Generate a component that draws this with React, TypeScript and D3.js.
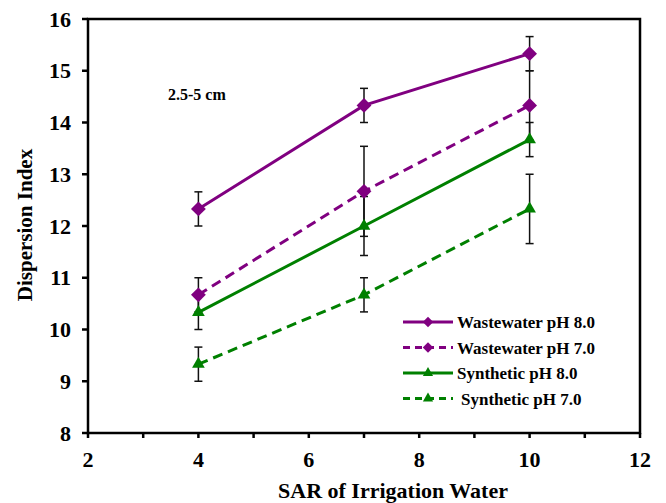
import { useEffect, useRef } from "react";
import * as d3 from "d3";

const sar = [4, 7, 10];
const seriesNames = ["Wastewater pH 8.0", "Wastewater pH 7.0", "Synthetic pH 8.0", "Synthetic pH 7.0"];
const ww80 = [12.33, 14.33, 15.33];
const ww70 = [10.67, 12.67, 14.33];
const syn80 = [10.33, 12.0, 13.67];
const syn70 = [9.33, 10.67, 12.33];
const ww80Err = [0.33, 0.33, 0.33];
const ww70Err = [0.33, 0.87, 0.67];
const syn80Err = [0.33, 0.57, 0.33];
const syn70Err = [0.33, 0.33, 0.67];
const xTicks = [2, 4, 6, 8, 10, 12];
const yTicks = [8, 9, 10, 11, 12, 13, 14, 15, 16];

const App = () => {
  const ref = useRef<SVGSVGElement>(null);

  useEffect(() => {
    const width = 666, height = 503;
    const left = 88, right = 640, top = 19, bottom = 433;

    const svg = d3.select(ref.current)
      .html("")
      .attr("width", width)
      .attr("height", height)
      .attr("font-family", "Liberation Serif, DejaVu Serif, serif")
      .attr("font-weight", "bold");

    const x = d3.scaleLinear().domain([2, 12]).range([left, right]);
    const y = d3.scaleLinear().domain([8, 16]).range([bottom, top]);

    const series = [
      { name: seriesNames[0], values: ww80, err: ww80Err, color: "#800080", dash: null, shape: d3.symbolDiamond2 },
      { name: seriesNames[1], values: ww70, err: ww70Err, color: "#800080", dash: "10,6", shape: d3.symbolDiamond2 },
      { name: seriesNames[2], values: syn80, err: syn80Err, color: "#008000", dash: null, shape: d3.symbolTriangle },
      { name: seriesNames[3], values: syn70, err: syn70Err, color: "#008000", dash: "10,6", shape: d3.symbolTriangle }
    ];

    // frame
    svg.append("rect")
      .attr("x", left).attr("y", top)
      .attr("width", right - left).attr("height", bottom - top)
      .attr("fill", "none").attr("stroke", "#000").attr("stroke-width", 2.5);

    // x ticks (major + minor)
    d3.range(2, 12.01, 1).forEach(v => {
      svg.append("line")
        .attr("x1", x(v)).attr("x2", x(v))
        .attr("y1", bottom).attr("y2", bottom + 5)
        .attr("stroke", "#000").attr("stroke-width", 2.5);
    });
    svg.selectAll(".xt").data(xTicks).enter().append("text")
      .attr("x", d => x(d)).attr("y", 467)
      .attr("text-anchor", "middle")
      .attr("font-size", 22)
      .text(d => d);

    svg.selectAll(".yl").data(yTicks).enter().append("line")
      .attr("x1", left - 6).attr("x2", left)
      .attr("y1", d => y(d)).attr("y2", d => y(d))
      .attr("stroke", "#000").attr("stroke-width", 2.5);
    svg.selectAll(".yt").data(yTicks).enter().append("text")
      .attr("x", 71).attr("y", d => y(d) + 7.5)
      .attr("text-anchor", "end")
      .attr("font-size", 22)
      .text(d => d);

    svg.append("text")
      .attr("x", 393).attr("y", 498)
      .attr("text-anchor", "middle")
      .attr("font-size", 22)
      .text("SAR of Irrigation Water");

    svg.append("text")
      .attr("transform", `translate(32, 225) rotate(-90)`)
      .attr("text-anchor", "middle")
      .attr("font-size", 21)
      .text("Dispersion Index");

    svg.append("text")
      .attr("x", 168).attr("y", 100)
      .attr("font-size", 16)
      .text("2.5-5 cm");

    const line = d3.line<number>()
      .x((_, i) => x(sar[i]))
      .y(d => y(d));

    series.forEach(s => {
      // error bars
      s.values.forEach((v, i) => {
        const cx = x(sar[i]);
        const y1 = y(v + s.err[i]), y2 = y(v - s.err[i]);
        svg.append("line").attr("x1", cx).attr("x2", cx).attr("y1", y1).attr("y2", y2)
          .attr("stroke", "#111").attr("stroke-width", 1.5);
        [y1, y2].forEach(yy => {
          svg.append("line").attr("x1", cx - 4).attr("x2", cx + 4).attr("y1", yy).attr("y2", yy)
            .attr("stroke", "#111").attr("stroke-width", 1.5);
        });
      });
    });

    series.forEach(s => {
      svg.append("path")
        .attr("d", line(s.values))
        .attr("fill", "none")
        .attr("stroke", s.color)
        .attr("stroke-width", 3)
        .attr("stroke-dasharray", s.dash);

      const sym = d3.symbol().type(s.shape).size(s.shape === d3.symbolTriangle ? 70 : 140);
      svg.selectAll(null).data(s.values).enter().append("path")
        .attr("d", sym)
        .attr("transform", (d, i) => `translate(${x(sar[i])},${y(d)})`)
        .attr("fill", s.color);
    });

    // legend
    const lg = svg.append("g");
    series.forEach((s, i) => {
      const ly = 322 + i * 25.5;
      lg.append("line")
        .attr("x1", 403).attr("x2", 453).attr("y1", ly).attr("y2", ly)
        .attr("stroke", s.color).attr("stroke-width", 3)
        .attr("stroke-dasharray", s.dash ? "7,5" : null);
      lg.append("path")
        .attr("d", d3.symbol().type(s.shape).size(s.shape === d3.symbolTriangle ? 45 : 70)())
        .attr("transform", `translate(428,${ly})`)
        .attr("fill", s.color);
      lg.append("text")
        .attr("x", i === 3 ? 461 : 457).attr("y", ly + 6)
        .attr("font-size", 17)
        .text(s.name);
    });
  }, []);

  return <svg ref={ref} style={{ position: "absolute", left: 0, top: 0 }}></svg>;
};

export default App;
